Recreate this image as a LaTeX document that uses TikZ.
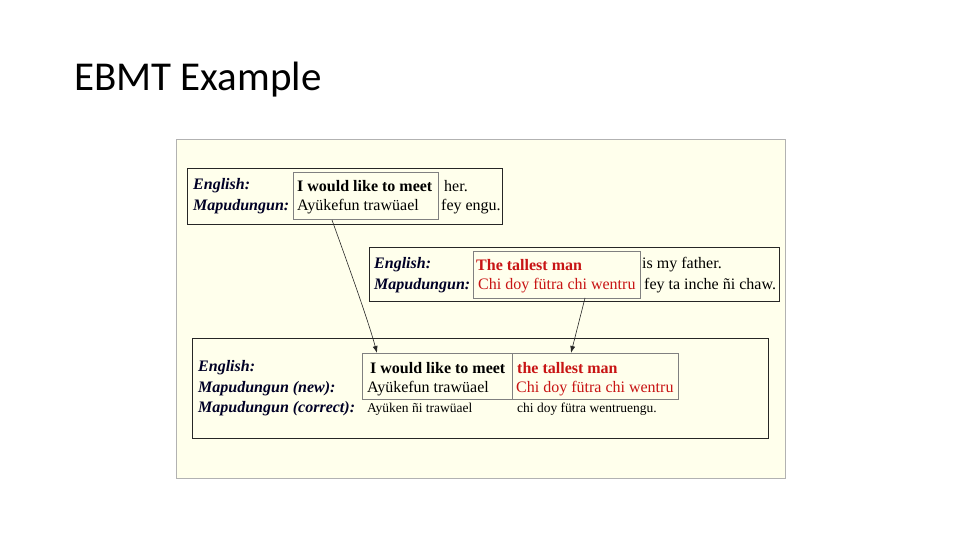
\documentclass[tikz,border=0pt]{standalone}
\usepackage{fontspec}
\usetikzlibrary{arrows.meta}
\setmainfont{Liberation Serif}
\newfontfamily\titlefont{Carlito}
\begin{document}
\begin{tikzpicture}[x=1pt,y=-1pt,
  bx/.style={draw=black!85,line width=0.8pt},
  cell/.style={draw=black!50,line width=1pt},
  lab/.style={anchor=west,inner sep=0pt,font=\fontsize{16}{16}\selectfont\bfseries\itshape,text=black!85!blue},
  txt/.style={anchor=west,inner sep=0pt,font=\fontsize{16}{16}\selectfont},
  btxt/.style={txt,font=\fontsize{16}{16}\selectfont\bfseries},
  sm/.style={anchor=west,inner sep=0pt,font=\fontsize{13.5}{13.5}\selectfont},
  red/.style={text={rgb,255:red,200;green,20;blue,20}},
  arr/.style={-{Latex[length=7pt,width=5pt]},line width=0.6pt,black!85}]
\useasboundingbox (0,0) rectangle (960,540);
\node[anchor=west,inner sep=0pt,font=\titlefont\fontsize{41}{41}\selectfont] (title) at (74,80) {EBMT Example};
\draw[draw=black!30,fill={rgb,255:red,255;green,255;blue,236}] (176,139) rectangle (785,478);
% box 1
\draw[bx] (187,168) rectangle (502,224);
\draw[cell] (293,173) rectangle (438,219);
\node[lab] (e1) at (193,186) {English:};
\node[lab] (m1) at (193,207) {Mapudungun:};
\node[btxt] (t1) at (297,186) {I would like to meet};
\node[txt] (t1b) at (444,186) {her.};
\node[txt] (s1) at (297,207) {Ayükefun trawüael};
\node[txt] (s1b) at (441,207) {fey engu.};
% box 2
\draw[bx] (369,247) rectangle (779,301);
\draw[cell] (473,251) rectangle (640,298);
\node[lab] (e2) at (374,265) {English:};
\node[lab] (m2) at (374,286) {Mapudungun:};
\node[btxt,red] (t2) at (476,265) {The tallest man};
\node[txt] (t2b) at (642,265) {is my father.};
\node[txt,red] (s2) at (478,286) {Chi doy fütra chi wentru};
\node[txt] (s2b) at (644,286) {fey ta inche ñi chaw.};
% box 3
\draw[bx] (192,338) rectangle (768,438);
\draw[cell] (362,353) rectangle (512,399);
\draw[cell] (512,353) rectangle (678,399);
\node[lab] (e3) at (198,368) {English:};
\node[lab] (m3) at (198,389) {Mapudungun (new):};
\node[lab] (c3) at (198,409) {Mapudungun (correct):};
\node[btxt] (t3) at (370,368) {I would like to meet};
\node[btxt,red] (t4) at (517,368) {the tallest man};
\node[txt] (s3) at (367,389) {Ayükefun trawüael};
\node[txt,red] (s4) at (516,389) {Chi doy fütra chi wentru};
\node[sm] (c3a) at (367,409) {Ayüken ñi trawüael};
\node[sm] (c3b) at (517,409) {chi doy fütra wentruengu.};
\coordinate (a1s) at (332,220);
\coordinate (a1e) at (377,353);
\coordinate (a2s) at (585,298);
\coordinate (a2e) at (571,353);
\draw[arr] (a1s) .. controls (350,270) and (368,320) .. (a1e);
\draw[arr] (a2s) -- (a2e);
\end{tikzpicture}
\end{document}
